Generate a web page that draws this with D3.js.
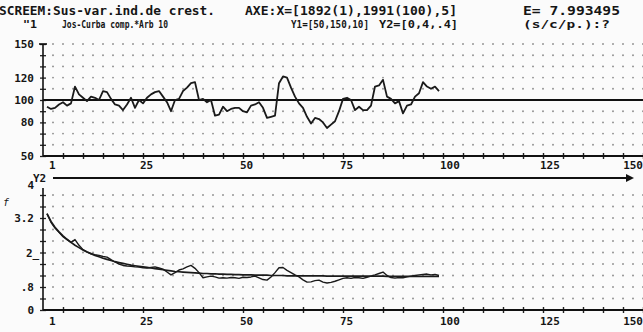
<!DOCTYPE html>
<html>
<head>
<meta charset="utf-8">
<script src="https://cdn.jsdelivr.net/npm/d3@7"></script>
<style>
  html, body { margin: 0; padding: 0; background: #fbfbfb; }
  svg { display: block; }
  text { font-family: "DejaVu Sans Mono", "Liberation Mono", monospace; font-weight: bold; fill: #151515; }
</style>
</head>
<body>
<div id="chart"></div>
<script>
// index = year position (1 = 1892 ... 99)
const idx = d3.range(1, 100);

// Y1: growth index (top panel)
const growthIndex = [
  94, 92, 93, 96, 98, 95, 97, 112, 105, 102,
  99, 103, 102, 100, 108, 107, 101, 96, 95, 91,
  96, 102, 93, 100, 97, 102, 105, 107, 108, 103,
  98, 90, 100, 101, 108, 111, 115, 116, 100, 101,
  98, 100, 86, 87, 94, 90, 92, 93, 93, 90,
  89, 95, 96, 98, 93, 84, 85, 86, 115, 121,
  120, 111, 103, 97, 93, 85, 79, 84, 83, 80,
  75, 78, 81, 90, 101, 102, 100, 91, 94, 91,
  91, 95, 112, 113, 118, 103, 101, 97, 99, 88,
  95, 96, 103, 106, 116, 112, 110, 112, 108
];

// Y2: ring width (bottom panel), raw series
const ringWidth = [
  3.35, 3.05, 2.85, 2.70, 2.55, 2.45, 2.35, 2.45, 2.25, 2.10,
  2.02, 1.95, 1.92, 1.90, 1.86, 1.84, 1.75, 1.67, 1.60, 1.55,
  1.53, 1.52, 1.50, 1.49, 1.47, 1.46, 1.48, 1.50, 1.46, 1.42,
  1.32, 1.22, 1.30, 1.39, 1.43, 1.50, 1.55, 1.45, 1.30, 1.12,
  1.15, 1.18, 1.15, 1.11, 1.12, 1.11, 1.13, 1.12, 1.10, 1.14,
  1.13, 1.15, 1.18, 1.12, 1.06, 1.04, 1.15, 1.30, 1.47, 1.48,
  1.38, 1.30, 1.22, 1.15, 1.05, 0.97, 0.98, 1.02, 1.04, 0.97,
  0.94, 0.96, 1.00, 1.05, 1.10, 1.12, 1.10, 1.13, 1.12, 1.10,
  1.14, 1.18, 1.22, 1.27, 1.32, 1.20, 1.13, 1.11, 1.13, 1.12,
  1.15, 1.18, 1.20, 1.22, 1.24, 1.25, 1.22, 1.24, 1.20
];

// Y2: compensating curve (smooth)
const compCurve = [
  3.35, 3.08, 2.88, 2.72, 2.58, 2.46, 2.35, 2.25, 2.17, 2.09,
  2.02, 1.96, 1.90, 1.85, 1.80, 1.76, 1.72, 1.68, 1.65, 1.62,
  1.59, 1.56, 1.54, 1.52, 1.50, 1.48, 1.46, 1.44, 1.42, 1.40,
  1.38, 1.36, 1.34, 1.33, 1.32, 1.31, 1.30, 1.29, 1.28, 1.27,
  1.27, 1.26, 1.26, 1.25, 1.25, 1.24, 1.24, 1.23, 1.23, 1.22,
  1.22, 1.22, 1.21, 1.21, 1.21, 1.21, 1.20, 1.20, 1.20, 1.20,
  1.19, 1.19, 1.19, 1.19, 1.19, 1.19, 1.19, 1.19, 1.19, 1.19,
  1.18, 1.18, 1.18, 1.18, 1.18, 1.18, 1.18, 1.18, 1.18, 1.18,
  1.18, 1.18, 1.18, 1.18, 1.18, 1.17, 1.17, 1.17, 1.17, 1.17,
  1.17, 1.17, 1.17, 1.17, 1.17, 1.17, 1.17, 1.17, 1.17
];

const xTickLabels = [1, 25, 50, 75, 100, 125, 150];
const y1TickLabels = [150, 120, 100, 80, 50];
const y2TickLabels = [4, 3.2, 2, 0.8, 0];
const y2LabelText = ["4", "3.2", "2_", ".8", "0"];

const width = 643, height = 332;

const svg = d3.select("#chart").append("svg")
  .attr("width", width)
  .attr("height", height);

// header text (pieces fitted to their printed widths)
const header = [
  { t: "SCREEM:Sus-var.ind.de crest.", x: -1, y: 15, w: 216, s: 12 },
  { t: "AXE:X=[1892(1),1991(100),5]", x: 245, y: 15, w: 212, s: 12 },
  { t: "E= 7.993495", x: 523, y: 15, w: 97, s: 12 },
  { t: "\"1", x: 23, y: 28, w: 14, s: 11 },
  { t: "Jos-Curba comp.*Arb 10", x: 62, y: 28, w: 106, s: 11 },
  { t: "Y1=[50,150,10]", x: 291, y: 28, w: 78, s: 11 },
  { t: "Y2=[0,4,.4]", x: 379, y: 28, w: 79, s: 11 },
  { t: "(s/c/p.):?", x: 523, y: 28, w: 87, s: 11 }
];
svg.selectAll("text.hdr").data(header).enter().append("text")
  .attr("class", "hdr")
  .attr("x", d => d.x).attr("y", d => d.y)
  .attr("textLength", d => d.w)
  .attr("lengthAdjust", "spacingAndGlyphs")
  .style("font-size", d => d.s + "px")
  .text(d => d.t);

const x = d3.scaleLinear().domain([0, 150]).range([43, 643]);
const y1 = d3.scaleLinear().domain([50, 150]).range([156, 44]);
const y2 = d3.scaleLinear().domain([0, 4]).range([310, 195]);

function dotGrid(yScale, rows) {
  const pts = [];
  rows.forEach(r => d3.range(2.5, 151, 2.5).forEach(c => pts.push([c, r])));
  svg.append("g").selectAll("circle").data(pts).enter().append("circle")
    .attr("cx", d => x(d[0]))
    .attr("cy", d => yScale(d[1]))
    .attr("r", 0.95)
    .attr("fill", "#8f8f8f");
}
dotGrid(y1, d3.range(60, 151, 10));
dotGrid(y2, d3.range(1, 11).map(k => k * 0.4));

function xAxis(yPos, labelDy) {
  svg.append("g")
    .attr("transform", `translate(0,${yPos - 3})`)
    .call(d3.axisBottom(x).tickValues(d3.range(5, 151, 5)).tickSize(6).tickFormat(""))
    .call(g => g.select(".domain").remove())
    .call(g => g.selectAll("line").attr("stroke", "#222").attr("stroke-width", 1.4));
  svg.append("line")
    .attr("x1", x(0)).attr("x2", x(150))
    .attr("y1", yPos).attr("y2", yPos)
    .attr("stroke", "#111").attr("stroke-width", 2);
  svg.append("g").selectAll("text").data(xTickLabels).enter().append("text")
    .attr("x", d => d === 1 ? x(d) + 2 : (d === 150 ? 643 : x(d) - 3))
    .attr("text-anchor", d => d === 150 ? "end" : "start")
    .attr("y", yPos + labelDy)
    .style("font-size", "11px")
    .text(d => d);
}

function yAxis(yScale, ticks, top) {
  svg.append("g")
    .attr("transform", `translate(${x(0) + 3},0)`)
    .call(d3.axisLeft(yScale).tickValues(ticks).tickSize(6).tickFormat(""))
    .call(g => g.select(".domain").remove())
    .call(g => g.selectAll("line").attr("stroke", "#222").attr("stroke-width", 1.3));
  svg.append("line")
    .attr("x1", x(0)).attr("x2", x(0))
    .attr("y1", top).attr("y2", yScale.range()[0])
    .attr("stroke", "#111").attr("stroke-width", 1.6);
}

// top panel
yAxis(y1, d3.range(50, 151, 10), y1(150));
svg.append("line")
  .attr("x1", x(0) - 4).attr("x2", x(0) + 4)
  .attr("y1", y1(150)).attr("y2", y1(150))
  .attr("stroke", "#111").attr("stroke-width", 1.6);
svg.append("line")
  .attr("x1", x(0)).attr("x2", x(150))
  .attr("y1", y1(100)).attr("y2", y1(100))
  .attr("stroke", "#111").attr("stroke-width", 1.8);
xAxis(156, 13);
svg.append("g").selectAll("text").data(y1TickLabels).enter().append("text")
  .attr("x", 34).attr("y", d => y1(d) + 4)
  .attr("text-anchor", "end")
  .style("font-size", "11px")
  .text(d => d);

const line1 = d3.line().x((d, i) => x(idx[i])).y(d => y1(d));
svg.append("path")
  .datum(growthIndex)
  .attr("d", line1)
  .attr("fill", "none")
  .attr("stroke", "#1a1a1a")
  .attr("stroke-width", 1.8)
  .attr("stroke-linejoin", "round");

// separator arrow + Y2 label
svg.append("line")
  .attr("x1", 53).attr("x2", 628).attr("y1", 178).attr("y2", 178)
  .attr("stroke", "#111").attr("stroke-width", 2);
svg.append("path")
  .attr("d", "M626,174 L634,178 L626,182 Z")
  .attr("fill", "#111");
svg.append("text").attr("x", 33).attr("y", 182).style("font-size", "11px").text("Y2");
svg.append("text").attr("x", 3).attr("y", 206).style("font-size", "10px")
  .style("font-style", "italic").style("font-weight", "normal").text("f");

// bottom panel
yAxis(y2, d3.range(0, 11).map(k => k * 0.4), 188);
xAxis(310, 15);
svg.append("g").selectAll("text").data(y2TickLabels).enter().append("text")
  .attr("x", (d, i) => i === 2 ? 26 : 34)
  .attr("y", (d, i) => (i === 0 ? y2(d) - 10 : y2(d)) + 4)
  .attr("text-anchor", (d, i) => i === 2 ? "start" : "end")
  .style("font-size", "11px")
  .text((d, i) => y2LabelText[i]);

const line2 = d3.line().x((d, i) => x(idx[i])).y(d => y2(d));
svg.append("path")
  .datum(compCurve)
  .attr("d", line2)
  .attr("fill", "none")
  .attr("stroke", "#1a1a1a")
  .attr("stroke-width", 1.7);
svg.append("path")
  .datum(ringWidth)
  .attr("d", line2)
  .attr("fill", "none")
  .attr("stroke", "#1a1a1a")
  .attr("stroke-width", 1.4)
  .attr("stroke-linejoin", "round");
</script>
</body>
</html>
